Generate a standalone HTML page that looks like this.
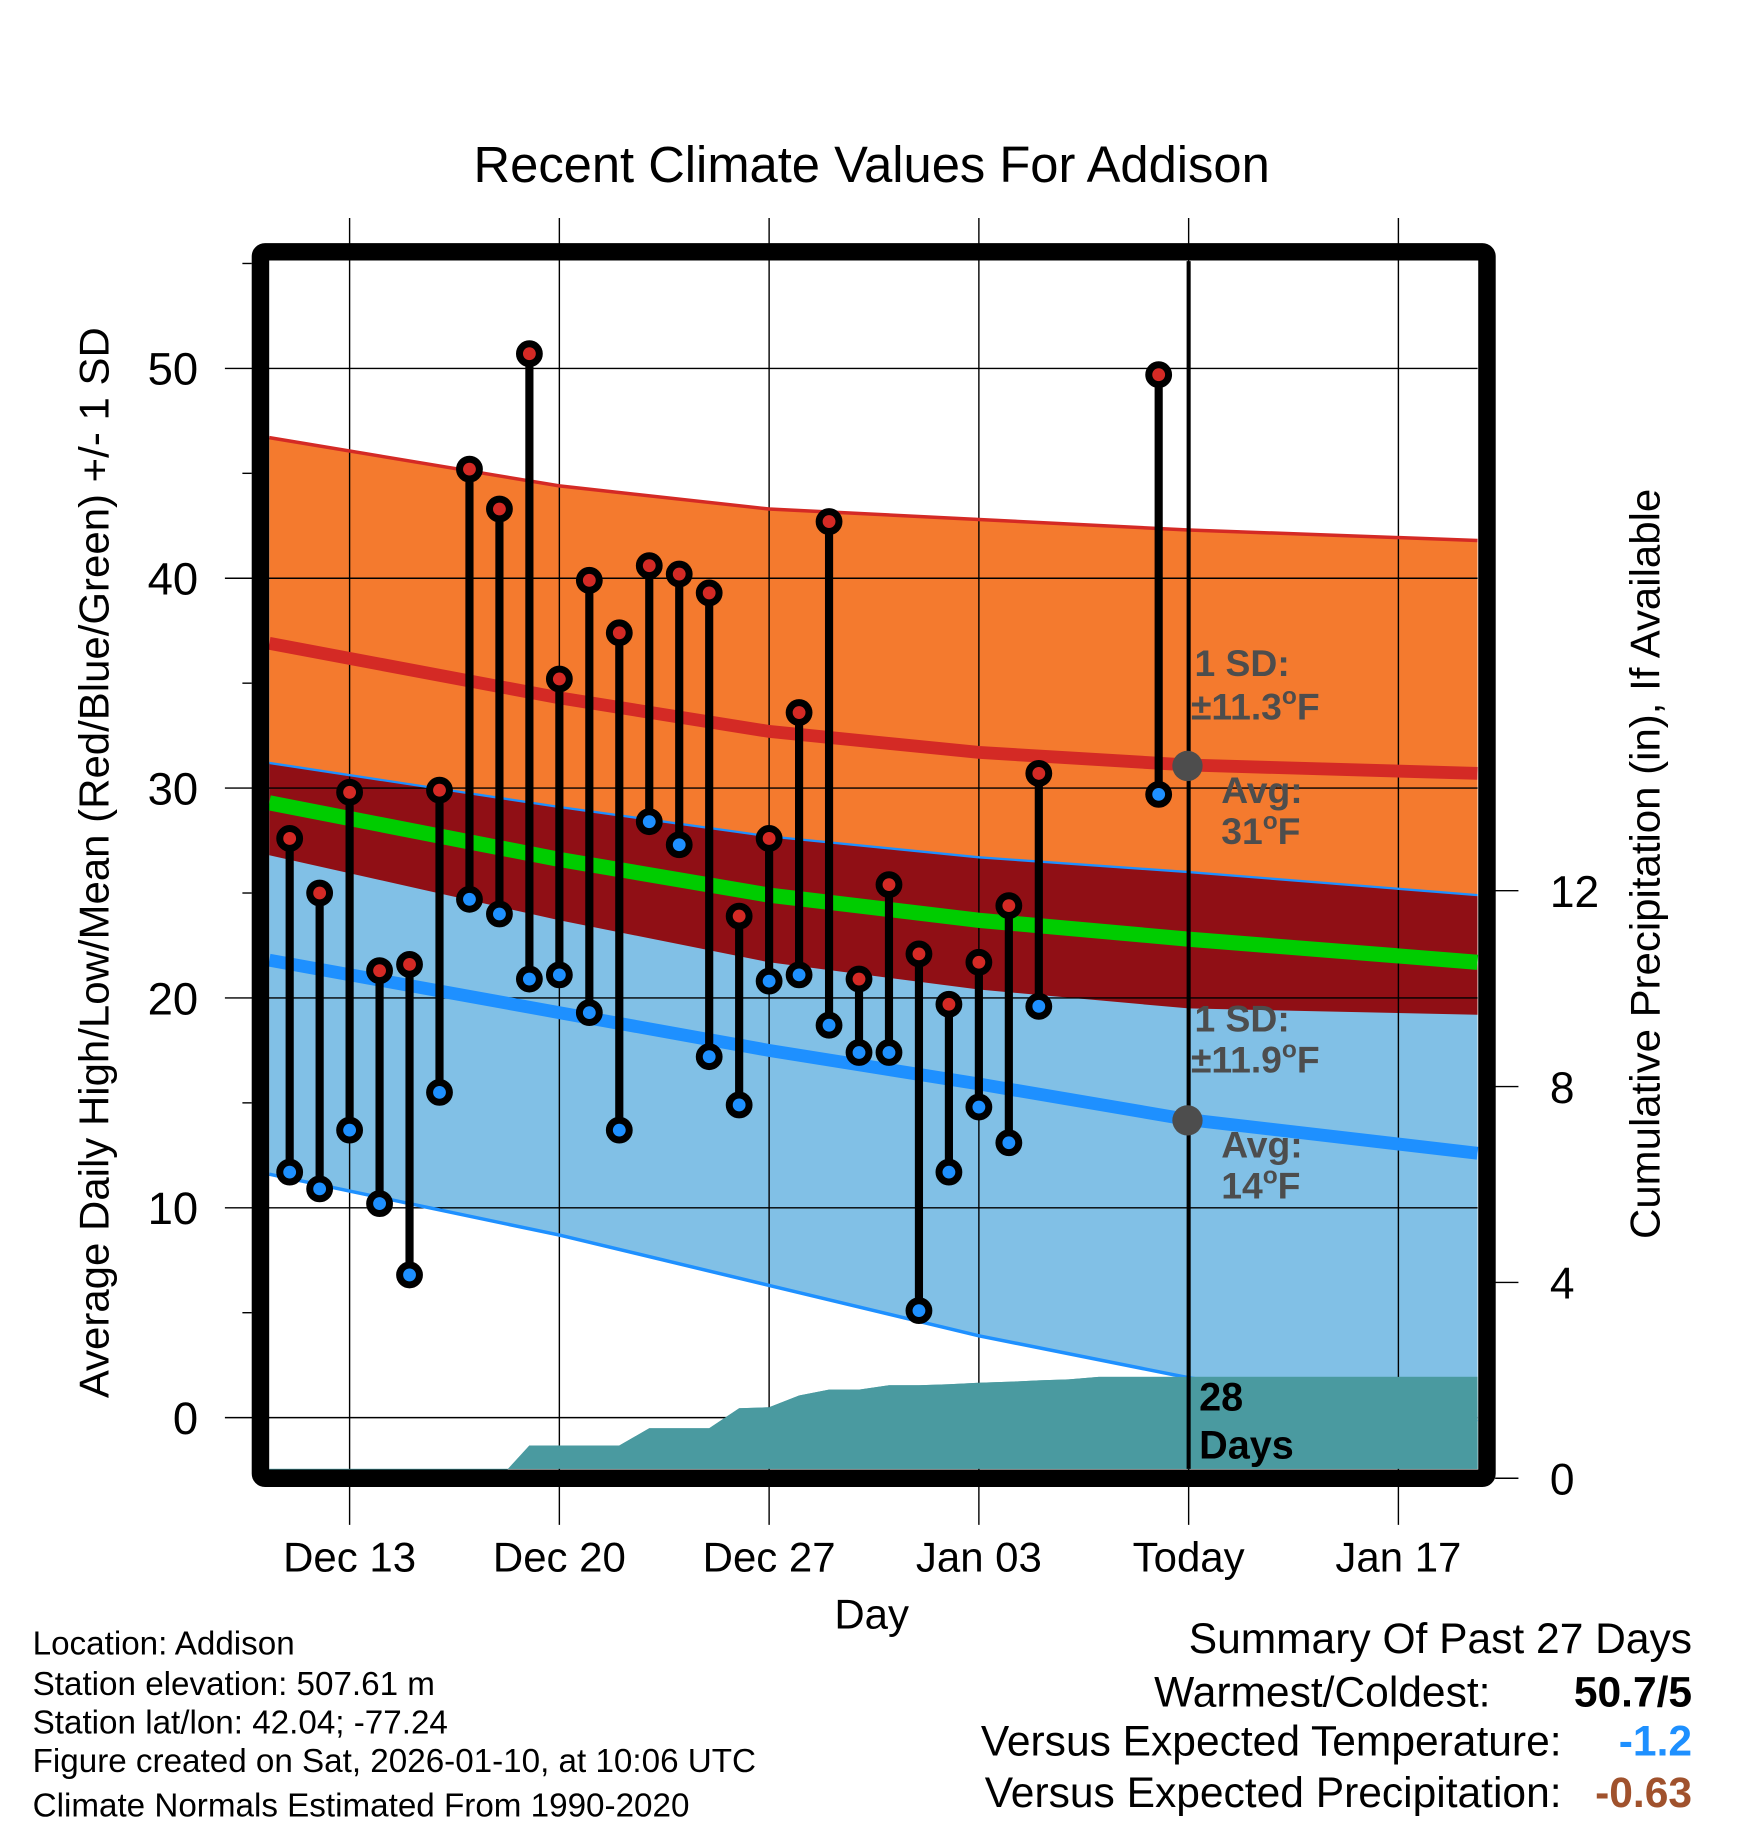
<!DOCTYPE html>
<html><head><meta charset="utf-8">
<style>
html,body{margin:0;padding:0;background:#fff;}
svg{display:block;}
text{font-family:"Liberation Sans",sans-serif;}
</style></head>
<body>
<svg id="chart" width="1748" height="1828" viewBox="0 0 1500 1568" preserveAspectRatio="none" xmlns="http://www.w3.org/2000/svg">
<g id="fills"></g>
<g id="precip"></g>
<g id="grid"></g>
<g id="lines"></g>
<g id="marks"></g>
<g id="annot"></g>
<g id="frame"></g>
<g id="labels"></g>
</svg>
<script>
// ---- data ----
const days = [-2,-1,0,1,2,3,4,5,6,7,8,9,10,11,12,13,14,15,16,17,18,19,20,21,22,23,27];
const highs = [27.6,25.0,29.8,21.3,21.6,29.9,45.2,43.3,50.7,35.2,39.9,37.4,40.6,40.2,39.3,23.9,27.6,33.6,42.7,20.9,25.4,22.1,19.7,21.7,24.4,30.7,49.7];
const lows  = [11.7,10.9,13.7,10.2,6.8,15.5,24.7,24.0,20.9,21.1,19.3,13.7,28.4,27.3,17.2,14.9,20.8,21.1,18.7,17.4,17.4,5.1,11.7,14.8,13.1,19.6,29.7];
const normDays = [-2.68,7,14,21,28,37.64];
const highPlusSD = [46.7,44.4,43.3,42.8,42.3,41.8];
const highMean   = [36.9,34.3,32.7,31.7,31.1,30.7];
const lowPlusSD  = [31.2,29.1,27.7,26.7,26.0,24.9];
const meanTemp   = [29.3,26.6,24.9,23.7,22.8,21.7];
const highMinusSD= [26.8,23.7,21.7,20.4,19.5,19.2];
const lowMean    = [21.8,19.3,17.5,15.9,14.2,12.6];
const lowMinusSD = [11.6,8.7,6.3,3.9,1.9,-0.2];
const precipDays = [-2.68,5,6,9,10,12,13,14,15,16,17,18,19,20,21,22,23,24,25,28,37.64];
const precipCum  = [0,0,0.67,0.67,1.02,1.02,1.43,1.45,1.69,1.81,1.81,1.9,1.9,1.92,1.95,1.97,2.0,2.02,2.07,2.07,2.07];
const xTickDays = [0,7,14,21,28,35];
const xTickLabels = ["Dec 13","Dec 20","Dec 27","Jan 03","Today","Jan 17"];
const yTicks = [0,10,20,30,40,50];
const pTicks = [0,4,8,12];

// ---- axes ----
const L=231,R=1268,T=224,B=1260;
const x = d => 300 + d*180/7;
const y = v => 316 + (50-v)*18;
const py = v => 1268 - 42*v;
const NS="http://www.w3.org/2000/svg";
function mk(tag, parent, attrs){const e=document.createElementNS(NS,tag);for(const k in attrs)e.setAttribute(k,attrs[k]);document.getElementById(parent).appendChild(e);return e;}
function txt(parent, s, attrs){const e=mk('text',parent,attrs);e.textContent=s;return e;}

function band(upper, lower, fill, name){
  let pts = normDays.map((d,i)=>x(d)+','+y(upper[i]));
  for(let i=normDays.length-1;i>=0;i--) pts.push(x(normDays[i])+','+y(lower[i]));
  const p=mk('polygon','fills',{points:pts.join(' '),fill:fill});
  
  
}
band(highPlusSD, highMinusSD, '#f47a2e', 'high-sd-band');
band(lowPlusSD, lowMinusSD, '#81c0e6', 'low-sd-band');
band(lowPlusSD, highMinusSD, '#900f15', 'overlap-band');

// precipitation
{
  let pts = precipDays.map((d,i)=>Math.max(L,Math.min(R,x(d)))+','+py(precipCum[i]));
  pts.push(R+','+B); pts.push(L+','+B);
  const p=mk('polygon','precip',{points:pts.join(' '),fill:'#4a9aa0'});
  
  
}

// grid
yTicks.forEach(v=>{
  const l=mk('line','grid',{x1:193,x2:R,y1:y(v),y2:y(v),stroke:'#000','stroke-width':1.2});
  
  
  const t=txt('labels',String(v),{x:170,y:y(v)+14,'font-size':39,'text-anchor':'end'});
  
  
});
[5,15,25,35,45,55].forEach(v=>{
  mk('line','grid',{x1:208,x2:216,y1:y(v),y2:y(v),stroke:'#000','stroke-width':1.2});
});
xTickDays.forEach((d,i)=>{
  const l=mk('line','grid',{x1:x(d),x2:x(d),y1:187,y2:1308,stroke:'#000','stroke-width':1.2});
  
  
  const t=txt('labels',xTickLabels[i],{x:x(d),y:1348,'font-size':36,'text-anchor':'middle'});
  
  
});
pTicks.forEach(v=>{
  mk('line','grid',{x1:1283,x2:1303,y1:py(v),y2:py(v),stroke:'#000','stroke-width':1.2});
  const t=txt('labels',String(v),{x:1330,y:py(v)+14,'font-size':38,'text-anchor':'start'});
  
  
});

// lines
function line(arr, color, w, name){
  const p=mk('polyline','lines',{points:normDays.map((d,i)=>x(d)+','+y(arr[i])).join(' '),fill:'none',stroke:color,'stroke-width':w});
  
  
}
line(highPlusSD,'#d42a25',3,'high-plus-sd-line');
line(highMean,'#d42a25',11,'mean-high-line');
line(lowPlusSD,'#1e90ff',2,'low-plus-sd-line');
line(meanTemp,'#00cc00',13,'mean-temp-line');
line(lowMean,'#1e90ff',11,'mean-low-line');
line(lowMinusSD,'#1e90ff',3,'low-minus-sd-line');
document.getElementById('lines').appendChild(document.getElementById('precip').firstChild.cloneNode());

// today line
{
  const l=mk('line','marks',{x1:x(28),x2:x(28),y1:T,y2:B,stroke:'#000','stroke-width':3.5});
  
  
}

// marks
days.forEach((d,i)=>{
  const s=mk('line','marks',{x1:x(d),x2:x(d),y1:y(highs[i]),y2:y(lows[i]),stroke:'#000','stroke-width':7});
  
  
});
days.forEach((d,i)=>{
  const h=mk('circle','marks',{cx:x(d),cy:y(highs[i]),r:8.5,fill:'#d42a25',stroke:'#000','stroke-width':6});
  
  
  const lo=mk('circle','marks',{cx:x(d),cy:y(lows[i]),r:8.5,fill:'#1e90ff',stroke:'#000','stroke-width':6});
  
  
});
</script>

<script>
(function(){
function add(parent, html){document.getElementById(parent).insertAdjacentHTML('beforeend', html);}
add('annot', `
<circle cx="1019" cy="657" r="13" fill="#4d4d4d"/>
<circle cx="1019" cy="961" r="13" fill="#4d4d4d"/>
<g font-weight="bold" font-size="32" fill="#4d4d4d">
<text x="1025" y="580">1 SD:</text>
<text x="1022" y="617">±11.3<tspan font-size="21" dy="-13">o</tspan><tspan dy="13">F</tspan></text>
<text x="1048" y="689">Avg:</text>
<text x="1048" y="724">31<tspan font-size="21" dy="-13">o</tspan><tspan dy="13">F</tspan></text>
<text x="1025" y="885">1 SD:</text>
<text x="1022" y="920">±11.9<tspan font-size="21" dy="-13">o</tspan><tspan dy="13">F</tspan></text>
<text x="1048" y="993">Avg:</text>
<text x="1048" y="1028">14<tspan font-size="21" dy="-13">o</tspan><tspan dy="13">F</tspan></text>
</g>
<g font-weight="bold" font-size="34" fill="#000">
<text x="1029" y="1210">28</text>
<text x="1029" y="1251">Days</text>
</g>`);
add('frame', `<rect x="223.5" y="216" width="1052.5" height="1052" fill="none" stroke="#000" stroke-width="15" rx="4"/>
<line x1="1276" y1="226" x2="1283" y2="226" stroke="#000"/>`);
add('labels', `
<text x="748" y="156" font-size="43.5" text-anchor="middle">Recent Climate Values For Addison</text>
<text transform="translate(93,740) rotate(-90)" font-size="36" text-anchor="middle">Average Daily High/Low/Mean (Red/Blue/Green) +/- 1 SD</text>
<text transform="translate(1424,741) rotate(-90)" font-size="36" text-anchor="middle">Cumulative Precipitation (in), If Available</text>
<text x="748" y="1397" font-size="36" text-anchor="middle">Day</text>
<g font-size="28.5">
<text x="28" y="1419">Location: Addison</text>
<text x="28" y="1454">Station elevation: 507.61 m</text>
<text x="28" y="1487">Station lat/lon: 42.04; -77.24</text>
<text x="28" y="1520">Figure created on Sat, 2026-01-10, at 10:06 UTC</text>
<text x="28" y="1558">Climate Normals Estimated From 1990-2020</text>
</g>
<g font-size="36.5">
<text x="1452" y="1418" text-anchor="end">Summary Of Past 27 Days</text>
<text x="1279" y="1464" text-anchor="end">Warmest/Coldest:</text>
<text x="1452" y="1464" text-anchor="end" font-weight="bold">50.7/5</text>
<text x="1340" y="1506" text-anchor="end">Versus Expected Temperature:</text>
<text x="1452" y="1506" text-anchor="end" font-weight="bold" fill="#1e90ff">-1.2</text>
<text x="1340" y="1550" text-anchor="end">Versus Expected Precipitation:</text>
<text x="1452" y="1550" text-anchor="end" font-weight="bold" fill="#a0522d">-0.63</text>
</g>`);
})();
</script>
</body></html>
